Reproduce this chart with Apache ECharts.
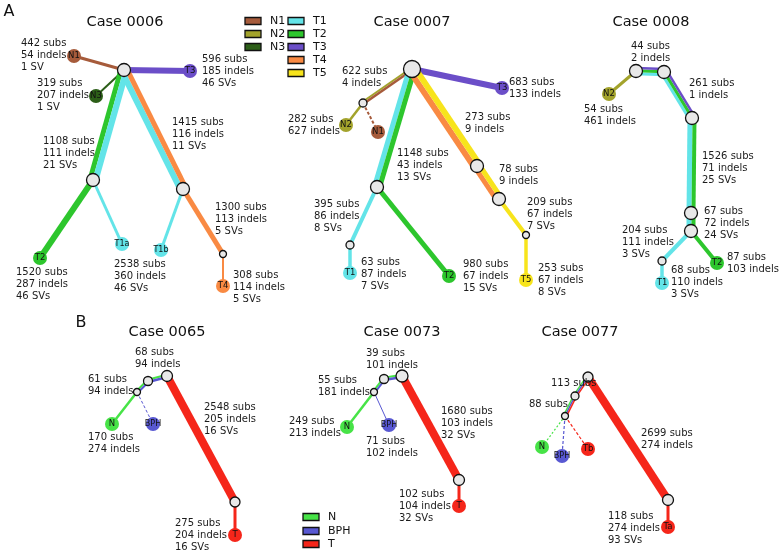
<!DOCTYPE html>
<html><head><meta charset="utf-8">
<script src="https://cdn.jsdelivr.net/npm/echarts/dist/echarts.min.js"></script>
<style>html,body{margin:0;padding:0;background:#fff}#c{width:780px;height:551px}</style>
</head><body><div id="c"></div>
<script>
// ---------- colours per sample ----------
const colors = {N1:'#A65B3B', N2:'#A3A32C', N3:'#2C5E18', T1:'#63E4E8', T2:'#2DC62D', T3:'#6B4EC8',
  T4:'#F98A43', T5:'#F7E41C', N:'#47E347', BPH:'#5858D2', T:'#F5261A', int:'#E8E8E8'};

// ---------- titles ----------
const titles = [['Case 0006',125,22],['Case 0007',412,22],['Case 0008',651,22],
                ['Case 0065',167,332],['Case 0073',402,332],['Case 0077',580,332]];
const panelLetters = [['A',9,12],['B',81,323]];

// ---------- legends ----------
const legendA = [['N1',245,21],['N2',245,34],['N3',245,47],
                 ['T1',288,21],['T2',288,34],['T3',288,47],['T4',288,60],['T5',288,73]];
const legendB = [['N',303,517],['BPH',303,531],['T',303,544]];

// ---------- tree nodes: id, x, y, radius, colour key, label ----------
const nodes = [
 // Case 0006
 ['a0',124,70,6.5,'int',''],['aN1',74,56,7,'N1','N1'],['aN3',96,96,7,'N3','N3'],['aT3',190,71,7,'T3','T3'],
 ['aL',93,180,6.5,'int',''],['aR',183,189,6.5,'int',''],['aT2',40,258,7,'T2','T2'],['aT1a',122,244,7,'T1','T1a'],
 ['aT1b',161,250,7,'T1','T1b'],['aS4',223,254,3.5,'int',''],['aT4',223,286,7,'T4','T4'],
 // Case 0007
 ['b0',412,69,8.5,'int',''],['bT3',502,88,7,'T3','T3'],['bS',363,103,4,'int',''],['bN2',346,125,7,'N2','N2'],
 ['bN1',378,132,7,'N1','N1'],['bL',377,187,6.5,'int',''],['bR1',477,166,6.5,'int',''],['bR2',499,199,6.5,'int',''],
 ['bS5',526,235,3.5,'int',''],['bT5',526,280,7,'T5','T5'],['bS1',350,245,4,'int',''],['bT1',350,273,7,'T1','T1'],
 ['bT2',449,276,7,'T2','T2'],
 // Case 0008
 ['cA',636,71,6.5,'int',''],['cB',664,72,6.5,'int',''],['cC',692,118,6.5,'int',''],['cD',691,213,6.5,'int',''],
 ['cE',691,231,6.5,'int',''],['cN2',609,94,7,'N2','N2'],['cS1',662,261,4,'int',''],['cT1',662,283,7,'T1','T1'],
 ['cT2',717,263,7,'T2','T2'],
 // Case 0065
 ['dTop',167,376,5.5,'int',''],['dMid',148,381,4.5,'int',''],['dS',137,392,3.5,'int',''],['dN',112,424,7,'N','N'],
 ['dBPH',153,424,7,'BPH','BPH'],['dR',235,502,5,'int',''],['dT',235,535,7,'T','T'],
 // Case 0073
 ['eTop',402,376,6,'int',''],['eMid',384,379,4.5,'int',''],['eS',374,392,3.5,'int',''],['eN',347,427,7,'N','N'],
 ['eBPH',389,425,7,'BPH','BPH'],['eR',459,480,5.5,'int',''],['eT',459,506,7,'T','T'],
 // Case 0077
 ['fTop',588,377,5,'int',''],['fMid',575,396,4,'int',''],['fS',565,416,3.5,'int',''],['fN',542,447,7,'N','N'],
 ['fBPH',562,456,7,'BPH','BPH'],['fTb',588,449,7,'T','Tb'],['fR',668,500,5.5,'int',''],['fTa',668,527,7,'T','Ta']
];

// ---------- tree edges: from, to, stripes [colour, width], dash ----------
const edges = [
 ['a0','aN1',[['N1',3]]],['a0','aN3',[['N3',2]]],['a0','aT3',[['T3',6]]],
 ['a0','aL',[['T2',5],['T1',6]]],['a0','aR',[['T1',6],['T4',5]]],
 ['aL','aT2',[['T2',6]]],['aL','aT1a',[['T1',3]]],['aR','aT1b',[['T1',3]]],
 ['aR','aS4',[['T4',5]]],['aS4','aT4',[['T4',2]]],

 ['b0','bT3',[['T3',6]]],['b0','bS',[['N2',2],['N1',2.5]]],['bS','bN2',[['N2',2.5]]],
 ['bS','bN1',[['N1',2]],[3,2]],['b0','bL',[['T1',5],['T2',5]]],['b0','bR1',[['T4',6],['T5',6]]],
 ['bR1','bR2',[['T4',5],['T5',5]]],['bR2','bS5',[['T5',4]]],['bS5','bT5',[['T5',3.5]]],
 ['bL','bS1',[['T1',4]]],['bS1','bT1',[['T1',3.5]]],['bL','bT2',[['T2',5]]],

 ['cA','cN2',[['N2',3]]],['cA','cB',[['T1',3],['T2',3],['T3',2.5]]],['cB','cC',[['T1',3],['T2',3],['T3',2.5]]],
 ['cC','cD',[['T1',5],['T2',4]]],['cD','cE',[['T1',5],['T2',4]]],['cE','cS1',[['T1',4]]],
 ['cS1','cT1',[['T1',3.5]]],['cE','cT2',[['T2',4]]],

 ['dTop','dMid',[['N',2],['BPH',2.5]]],['dMid','dS',[['N',2],['BPH',2]]],['dS','dN',[['N',2.5]]],
 ['dS','dBPH',[['BPH',1]],[3,2]],['dTop','dR',[['T',8]]],['dR','dT',[['T',3]]],

 ['eTop','eMid',[['N',2],['BPH',2.5]]],['eMid','eS',[['N',2],['BPH',2]]],['eS','eN',[['N',2.5]]],
 ['eS','eBPH',[['BPH',1]]],['eTop','eR',[['T',8]]],['eR','eT',[['T',3]]],

 ['fTop','fMid',[['N',1.5],['BPH',1.5],['T',1.5]]],['fMid','fS',[['N',1.5],['BPH',1.5],['T',1.5]]],
 ['fS','fN',[['N',1.2]],[2,2]],['fS','fBPH',[['BPH',1.2]],[3,2]],['fS','fTb',[['T',1.2]],[3,2]],
 ['fTop','fR',[['T',8]]],['fR','fTa',[['T',3]]]
];

// ---------- branch annotations: lines, left x, first-line y ----------
const notes = [
 [['442 subs','54 indels','1 SV'],21,43],[['319 subs','207 indels','1 SV'],37,83],
 [['596 subs','185 indels','46 SVs'],202,59],[['1108 subs','111 indels','21 SVs'],43,141],
 [['1415 subs','116 indels','11 SVs'],172,122],[['1300 subs','113 indels','5 SVs'],215,207],
 [['1520 subs','287 indels','46 SVs'],16,272],[['2538 subs','360 indels','46 SVs'],114,264],
 [['308 subs','114 indels','5 SVs'],233,275],

 [['683 subs','133 indels'],509,82],[['622 subs','4 indels'],342,71],[['282 subs','627 indels'],288,119],
 [['1148 subs','43 indels','13 SVs'],397,153],[['273 subs','9 indels'],465,117],[['78 subs','9 indels'],499,169],
 [['209 subs','67 indels','7 SVs'],527,202],[['395 subs','86 indels','8 SVs'],314,204],
 [['63 subs','87 indels','7 SVs'],361,262],[['980 subs','67 indels','15 SVs'],463,264],
 [['253 subs','67 indels','8 SVs'],538,268],

 [['44 subs','2 indels'],631,46],[['261 subs','1 indels'],689,83],[['54 subs','461 indels'],584,109],
 [['1526 subs','71 indels','25 SVs'],702,156],[['67 subs','72 indels','24 SVs'],704,211],
 [['204 subs','111 indels','3 SVs'],622,230],[['87 subs','103 indels'],727,257],
 [['68 subs','110 indels','3 SVs'],671,270],

 [['68 subs','94 indels'],135,352],[['61 subs','94 indels'],88,379],
 [['2548 subs','205 indels','16 SVs'],204,407],[['170 subs','274 indels'],88,437],
 [['275 subs','204 indels','16 SVs'],175,523],

 [['39 subs','101 indels'],366,353],[['55 subs','181 indels'],318,380],[['249 subs','213 indels'],289,421],
 [['71 subs','102 indels'],366,441],[['1680 subs','103 indels','32 SVs'],441,411],
 [['102 subs','104 indels','32 SVs'],399,494],

 [['113 subs'],551,383],[['88 subs'],529,404],[['2699 subs','274 indels'],641,433],
 [['118 subs','274 indels','93 SVs'],608,516]
];

const FONT = '"DejaVu Sans", Verdana, sans-serif';
const nodeById = {};
nodes.forEach(n => nodeById[n[0]] = n);

const chart = echarts.init(document.getElementById('c'), null, {renderer:'canvas'});

const edgeData = edges.map((e,i) => {
  const a = nodeById[e[0]], b = nodeById[e[1]];
  return [a[1], a[2], b[1], b[2], i];
});

const option = {
  animation: false,
  backgroundColor: '#fff',
  grid: {left:0, right:0, top:0, bottom:0},
  xAxis: {type:'value', min:0, max:780, show:false},
  yAxis: {type:'value', min:0, max:551, inverse:true, show:false},
  series: [
    {
      type:'custom', coordinateSystem:'cartesian2d', z:1, silent:true,
      encode:{x:[0,2], y:[1,3]},
      data: edgeData,
      renderItem(params, api){
        const e = edges[api.value(4)];
        const p1 = api.coord([api.value(0), api.value(1)]);
        const p2 = api.coord([api.value(2), api.value(3)]);
        const dx = p2[0]-p1[0], dy = p2[1]-p1[1], L = Math.hypot(dx,dy);
        const nx = dy/L, ny = -dx/L;
        const total = e[2].reduce((s,st)=>s+st[1],0);
        let off = -total/2;
        const children = [];
        e[2].forEach(st => {
          const o = off + st[1]/2; off += st[1];
          children.push({type:'line',
            shape:{x1:p1[0]+nx*o, y1:p1[1]+ny*o, x2:p2[0]+nx*o, y2:p2[1]+ny*o},
            style:{stroke:colors[st[0]], lineWidth:st[1], lineDash:e[3]||null, fill:null}});
        });
        return {type:'group', children};
      }
    },
    {
      type:'scatter', z:3, silent:true,
      data: nodes.map(n => ({
        value:[n[1], n[2]],
        symbol:'circle',
        symbolSize: n[3]*2,
        itemStyle:{color:colors[n[4]], borderColor: n[4]==='int' ? '#111' : colors[n[4]],
                   borderWidth: n[4]==='int' ? 1.3 : 0, opacity:1},
        label:{show: n[5]!=='', position:'inside', formatter:n[5], fontSize: n[5].length>2 ? 8 : 8.5,
               color:'#111', fontFamily:FONT}
      }))
    },
    {
      type:'custom', coordinateSystem:'cartesian2d', z:4, silent:true,
      data: notes.map((t,i)=>[t[1], t[2], i]),
      renderItem(params, api){
        const t = notes[api.value(2)];
        const p = api.coord([api.value(0), api.value(1)]);
        return {type:'text', x:p[0], y:p[1]-6.15,
          style:{text:t[0].join('\n'), fontSize:10, fontFamily:FONT, fill:'#1b1b1b',
                 align:'left', verticalAlign:'top', lineHeight:12.3}};
      }
    },
    {
      type:'custom', coordinateSystem:'cartesian2d', z:4, silent:true,
      data: titles.map((t,i)=>[t[1], t[2], i]),
      renderItem(params, api){
        const t = titles[api.value(2)];
        const p = api.coord([api.value(0), api.value(1)]);
        return {type:'text', x:p[0], y:p[1],
          style:{text:t[0], fontSize:14.5, fontFamily:FONT, fill:'#111', align:'center', verticalAlign:'middle'}};
      }
    },
    {
      type:'custom', coordinateSystem:'cartesian2d', z:4, silent:true,
      data: panelLetters.map((t,i)=>[t[1], t[2], i]),
      renderItem(params, api){
        const t = panelLetters[api.value(2)];
        const p = api.coord([api.value(0), api.value(1)]);
        return {type:'text', x:p[0], y:p[1],
          style:{text:t[0], fontSize:16, fontFamily:FONT, fill:'#111', align:'center', verticalAlign:'middle'}};
      }
    },
    {
      type:'custom', coordinateSystem:'cartesian2d', z:4, silent:true,
      data: legendA.concat(legendB).map((t,i)=>[t[1], t[2], i]),
      renderItem(params, api){
        const t = legendA.concat(legendB)[api.value(2)];
        const p = api.coord([api.value(0), api.value(1)]);
        return {type:'group', children:[
          {type:'rect', shape:{x:p[0], y:p[1]-3.5, width:16, height:7},
           style:{fill:colors[t[0]], stroke:'#111', lineWidth:1.3}},
          {type:'text', x:p[0]+25, y:p[1],
           style:{text:t[0], fontSize:11, fontFamily:FONT, fill:'#111', align:'left', verticalAlign:'middle'}}
        ]};
      }
    }
  ]
};
chart.setOption(option);
</script>
</body></html>
